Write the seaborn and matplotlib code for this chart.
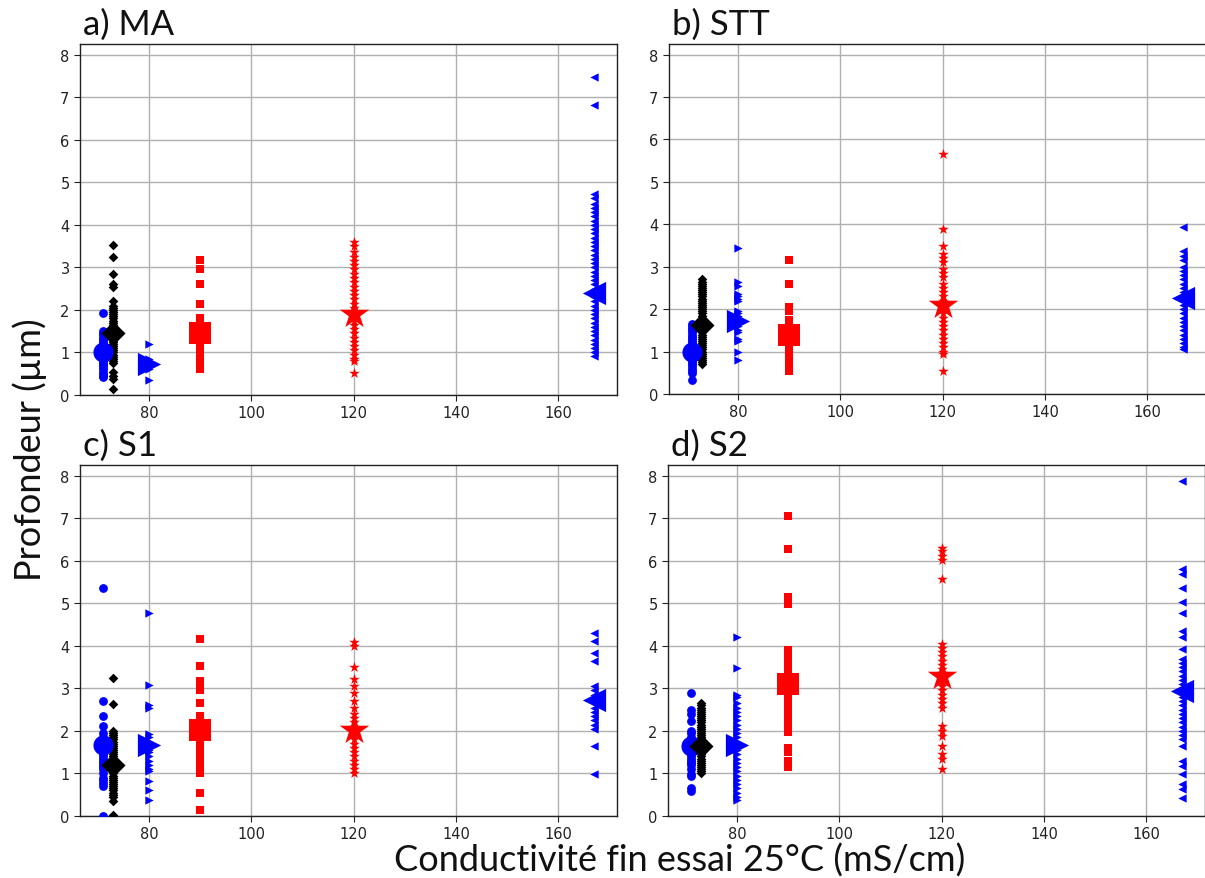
import matplotlib
matplotlib.use("Agg")
import matplotlib.pyplot as plt
import seaborn as sns
import pandas as pd

# ---------------- data ----------------
x_circle, x_diamond, x_rtri, x_square, x_star, x_ltri = 71, 73, 80, 90, 120, 167

panel_titles = ["a) MA", "b) STT", "c) S1", "d) S2"]

# a) MA
ma_circle = [1.92, 1.5, 1.45, 1.4, 1.35, 1.3, 1.25, 1.2, 1.15, 1.1, 1.05, 1.0, 0.95, 0.9, 0.85,
             0.8, 0.75, 0.7, 0.65, 0.6, 0.55, 0.5, 0.45, 0.42]
ma_diamond = [3.52, 3.25, 2.85, 2.6, 2.55, 2.2, 2.1, 2.05, 2.0, 1.95, 1.9, 1.85, 1.8, 1.75, 1.7,
              1.65, 1.6, 1.55, 1.5, 1.45, 1.4, 1.35, 1.3, 1.25, 1.2, 1.15, 1.1, 1.05, 1.0, 0.95,
              0.9, 0.85, 0.8, 0.75, 0.55, 0.45, 0.38, 0.15]
ma_rtri = [1.2, 0.85, 0.8, 0.75, 0.7, 0.65, 0.6, 0.35]
ma_square = [3.18, 2.95, 2.6, 2.15, 1.8, 1.72, 1.65, 1.6, 1.55, 1.5, 1.45, 1.4, 1.35, 1.3, 1.25,
             1.2, 1.1, 1.0, 0.95, 0.9, 0.85, 0.8, 0.75, 0.7, 0.62]
ma_star = [3.6, 3.5, 3.35, 3.25, 3.15, 3.05, 2.95, 2.85, 2.75, 2.65, 2.55, 2.45, 2.35, 2.25, 2.15,
           2.05, 1.95, 1.85, 1.75, 1.65, 1.55, 1.45, 1.35, 1.25, 1.15, 1.05, 0.95, 0.85, 0.8, 0.52]
ma_ltri = [7.48, 6.82, 4.72, 4.62, 4.5, 4.4, 4.3, 4.2, 4.1, 4.0, 3.9, 3.8, 3.7, 3.6, 3.5, 3.4, 3.3,
           3.2, 3.1, 3.0, 2.9, 2.8, 2.7, 2.6, 2.5, 2.4, 2.3, 2.2, 2.1, 2.0, 1.9, 1.8, 1.7, 1.6,
           1.5, 1.4, 1.3, 1.2, 1.1, 1.0, 0.92]
ma_means = [1.0, 1.45, 0.74, 1.45, 1.9, 2.4]

# b) STT
stt_circle = [1.65, 1.6, 1.55, 1.5, 1.45, 1.4, 1.35, 1.3, 1.25, 1.2, 1.15, 1.1, 1.05, 1.0, 0.95,
              0.9, 0.85, 0.8, 0.75, 0.7, 0.65, 0.6, 0.55, 0.5, 0.32]
stt_diamond = [2.7, 2.65, 2.6, 2.55, 2.5, 2.45, 2.4, 2.35, 2.3, 2.25, 2.2, 2.15, 2.1, 2.05, 2.0,
               1.95, 1.9, 1.85, 1.8, 1.75, 1.7, 1.65, 1.6, 1.55, 1.5, 1.45, 1.4, 1.35, 1.3, 1.25,
               1.2, 1.15, 1.1, 1.05, 1.0, 0.95, 0.9, 0.85, 0.8, 0.75, 0.7]
stt_rtri = [3.45, 2.65, 2.55, 2.35, 2.3, 2.25, 2.2, 1.95, 1.9, 1.85, 1.8, 1.75, 1.7, 1.65, 1.6,
            1.5, 1.45, 1.3, 1.25, 1.0, 0.8]
stt_square = [3.15, 2.6, 2.05, 1.95, 1.75, 1.65, 1.55, 1.5, 1.45, 1.4, 1.35, 1.3, 1.25, 1.2, 1.15,
              1.1, 1.05, 1.0, 0.95, 0.9, 0.85, 0.8, 0.75, 0.7, 0.65, 0.6, 0.55]
stt_star = [5.65, 3.9, 3.5, 3.3, 3.2, 3.1, 2.95, 2.85, 2.75, 2.6, 2.5, 2.4, 2.3, 2.2, 2.1, 2.0,
            1.9, 1.8, 1.7, 1.6, 1.5, 1.4, 1.3, 1.2, 1.1, 1.0, 0.95, 0.55]
stt_ltri = [3.94, 3.38, 3.25, 3.15, 3.0, 2.9, 2.8, 2.7, 2.6, 2.5, 2.4, 2.3, 2.2, 2.1, 2.0, 1.9,
            1.8, 1.7, 1.6, 1.5, 1.4, 1.3, 1.2, 1.1, 1.05]
stt_means = [1.0, 1.62, 1.72, 1.4, 2.1, 2.27]

# c) S1
s1_circle = [5.35, 2.7, 2.35, 2.12, 1.95, 1.85, 1.75, 1.65, 1.55, 1.5, 1.45, 1.4, 1.35, 1.3, 1.25,
             1.2, 1.15, 1.1, 1.0, 0.9, 0.85, 0.78, 0.7, 0.0]
s1_diamond = [3.25, 2.63, 2.0, 1.95, 1.9, 1.85, 1.8, 1.75, 1.7, 1.65, 1.6, 1.55, 1.5, 1.45, 1.4,
              1.35, 1.3, 1.25, 1.2, 1.15, 1.1, 1.05, 1.0, 0.95, 0.9, 0.85, 0.8, 0.75, 0.7, 0.65,
              0.6, 0.55, 0.5, 0.45, 0.35, 0.02]
s1_rtri = [4.78, 3.08, 2.6, 2.55, 1.92, 1.85, 1.75, 1.7, 1.6, 1.55, 1.5, 1.4, 1.3, 1.2, 1.1, 1.05,
           0.82, 0.6, 0.37]
s1_square = [4.15, 3.53, 3.18, 3.05, 2.95, 2.65, 2.35, 2.25, 2.15, 2.05, 1.95, 1.85, 1.75, 1.65,
             1.5, 1.45, 1.4, 1.3, 1.2, 1.1, 1.0, 0.55, 0.14]
s1_star = [4.1, 4.0, 3.5, 3.22, 3.05, 2.9, 2.7, 2.55, 2.4, 2.3, 2.2, 2.1, 2.05, 2.0, 1.9, 1.8, 1.7,
           1.6, 1.5, 1.4, 1.3, 1.2, 1.1, 1.0]
s1_ltri = [4.3, 4.12, 3.84, 3.65, 3.05, 2.95, 2.85, 2.75, 2.65, 2.55, 2.45, 2.35, 2.25, 2.15, 2.05,
           1.65, 0.98]
s1_means = [1.68, 1.2, 1.66, 2.03, 2.02, 2.72]

# d) S2
s2_circle = [2.9, 2.48, 2.4, 2.24, 2.0, 1.95, 1.85, 1.8, 1.75, 1.7, 1.6, 1.55, 1.5, 1.45, 1.4,
             1.35, 1.3, 1.25, 1.2, 1.1, 0.98, 0.95, 0.65, 0.58]
s2_diamond = [2.65, 2.6, 2.55, 2.5, 2.45, 2.4, 2.35, 2.3, 2.25, 2.2, 2.15, 2.1, 2.05, 2.0, 1.95,
              1.9, 1.85, 1.8, 1.75, 1.7, 1.65, 1.6, 1.55, 1.5, 1.45, 1.4, 1.35, 1.3, 1.25, 1.2,
              1.15, 1.1, 1.05, 1.0]
s2_rtri = [4.21, 3.47, 2.85, 2.8, 2.65, 2.55, 2.45, 2.35, 2.25, 2.15, 2.05, 1.95, 1.85, 1.75, 1.65,
           1.55, 1.45, 1.35, 1.25, 1.15, 1.05, 0.95, 0.85, 0.75, 0.65, 0.55, 0.45, 0.38]
s2_square = [7.05, 6.27, 5.15, 5.05, 4.98, 3.9, 3.8, 3.7, 3.6, 3.5, 3.4, 3.3, 3.2, 3.1, 3.0, 2.9,
             2.8, 2.7, 2.55, 2.45, 2.35, 2.25, 2.15, 2.05, 1.97, 1.6, 1.5, 1.3, 1.2, 1.15]
s2_star = [6.3, 6.22, 6.12, 6.02, 5.58, 4.04, 3.95, 3.85, 3.75, 3.65, 3.55, 3.45, 3.35, 3.25, 3.15,
           3.05, 2.95, 2.85, 2.75, 2.65, 2.55, 2.12, 2.0, 1.88, 1.65, 1.45, 1.33, 1.11]
s2_ltri = [7.88, 5.8, 5.69, 5.37, 5.02, 4.78, 4.35, 4.2, 3.92, 3.69, 3.6, 3.5, 3.4, 3.3, 3.2, 3.1,
           3.0, 2.9, 2.8, 2.7, 2.6, 2.5, 2.4, 2.3, 2.2, 2.1, 2.0, 1.9, 1.8, 1.65, 1.29, 1.18, 0.98,
           0.75, 0.63, 0.43]
s2_means = [1.65, 1.65, 1.68, 3.1, 3.3, 2.94]

xticks = [80, 100, 120, 140, 160]
yticks = [0, 1, 2, 3, 4, 5, 6, 7, 8]

# ---------------- style ----------------
sns.set_style("ticks")
plt.rcParams["font.family"] = ["DejaVu Sans"]

groups_style = [
    # x, marker, color, small size, big size
    (x_circle, "o", "#0000ff", 40, 210),
    (x_diamond, "D", "#000000", 24, 150),
    (x_rtri, ">", "#0000ff", 36, 280),
    (x_square, "s", "#ff0000", 32, 260),
    (x_star, "*", "#ff0000", 64, 500),
    (x_ltri, "<", "#0000ff", 36, 280),
]

panels = [
    ([ma_circle, ma_diamond, ma_rtri, ma_square, ma_star, ma_ltri], ma_means),
    ([stt_circle, stt_diamond, stt_rtri, stt_square, stt_star, stt_ltri], stt_means),
    ([s1_circle, s1_diamond, s1_rtri, s1_square, s1_star, s1_ltri], s1_means),
    ([s2_circle, s2_diamond, s2_rtri, s2_square, s2_star, s2_ltri], s2_means),
]

W, H = 1205, 879
fig = plt.figure(figsize=(W / 100, H / 100), dpi=100)
fig.patch.set_facecolor("white")

# axes rectangles in pixels: left, top, width, height
rects = [(80, 45, 537, 351), (669, 45, 537, 350), (80, 466, 537, 351), (668, 466, 537, 351)]

for (vals_list, means), title, (l, t, w, h) in zip(panels, panel_titles, rects):
    ax = fig.add_axes([l / W, 1 - (t + h) / H, w / W, h / H])
    ax.set_axisbelow(True)
    ax.grid(True, color="#b0b0b0", linewidth=1.0)
    for vals, mean, (xv, mk, col, s_small, s_big) in zip(vals_list, means, groups_style):
        df = pd.DataFrame({"x": [xv] * len(vals), "y": vals})
        sns.scatterplot(data=df, x="x", y="y", marker=mk, color=col, s=s_small,
                        edgecolor=col, linewidth=0, ax=ax, zorder=3)
        dm = pd.DataFrame({"x": [xv], "y": [mean]})
        sns.scatterplot(data=dm, x="x", y="y", marker=mk, color=col, s=s_big,
                        edgecolor=col, linewidth=0, ax=ax, zorder=4)
    ax.set_xlim(66.5, 171.5)
    ax.set_ylim(0, 8.25)
    ax.set_xticks(xticks)
    ax.set_yticks(yticks)
    ax.tick_params(labelsize=10.5, colors="#222222", length=4, width=0.8)
    ax.set_xlabel("")
    ax.set_ylabel("")
    for sp in ax.spines.values():
        sp.set_color("#222222")
        sp.set_linewidth(1.0)
        sp.set_visible(True)
    ax.text(3 / w, 1 + 10 / h, title, transform=ax.transAxes, ha="left", va="baseline",
            fontsize=25, family=["Lato", "DejaVu Sans"], color="#111111")

fig.text(30 / W, 1 - 450 / H, "Profondeur (µm)", rotation=90, ha="center", va="center",
         fontsize=26, family=["Lato", "DejaVu Sans"], color="#111111")
fig.text(680 / W, 1 - 861 / H, "Conductivité fin essai 25°C (mS/cm)", ha="center", va="center",
         fontsize=26, family=["Lato", "DejaVu Sans"], color="#111111")

fig.savefig("out.png", dpi=100, facecolor="white")
